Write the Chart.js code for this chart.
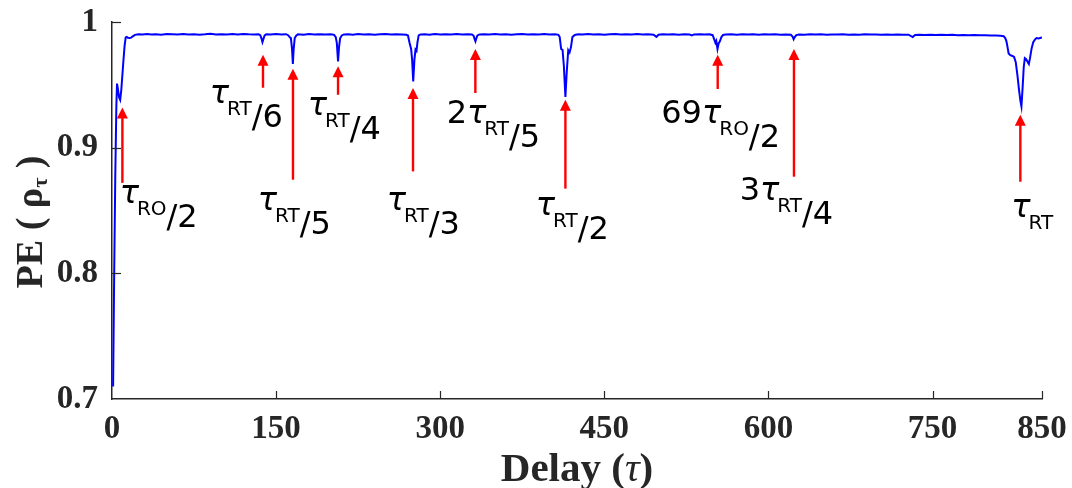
<!DOCTYPE html>
<html><head><meta charset="utf-8">
<script src="https://cdn.jsdelivr.net/npm/chart.js@4/dist/chart.umd.min.js"></script>
<style>html,body{margin:0;padding:0;background:#fff}#wrap{width:1072px;height:488px}</style>
</head><body><div id="wrap"><canvas id="c" width="1072" height="488"></canvas></div>
<script>
const delay = [1,2,3,4,4.6,5.5,6.5,7.5,8.5,9.5,10.5,11.5,12.5,13.5,14.5,16,17.5,19,21,24,28,32,36,40,45,50,55,60,65,70,75,80,85,90,95,100,105,110,115,120,125,130,134,135.5,136.5,137.5,138.5,139.5,141,145,150,155,159,161,162.5,163.5,164.5,165.3,166,167,168.5,170,175,180,185,190,195,200,203,204.5,205.5,206.6,207.5,208.5,210,212,216,220,225,230,235,240,245,250,255,260,265,269,270.5,272,273.4,274.3,275.3,276.4,277.4,278.3,279.2,280.3,282,286,290,295,300,305,310,315,320,325,329,330.5,331.5,332.2,333,334,336,340,345,350,355,360,365,370,375,380,385,390,395,400,405,408,409.2,410.5,411.8,413,414.4,415.6,417,418.2,419.5,420.8,423,426,430,435,440,445,450,455,460,465,470,475,480,485,490,495,497.6,499.5,503,508,513,518,523,528,530,532,537,542,546,549,550.5,551.5,552.3,553.4,554.5,555.5,557,558.5,561,566,571,576,581,586,591,596,601,606,611,616,620.5,622,623,624,625.5,628,633,638,643,648,653,658,663,668,673,678,683,688,693,698,703,708,713,718,723,728,731.8,734,738,743,748,753,758,763,768,773,778,783,788,793,798,803,808,812,815,816.5,817.5,818.5,819.5,821,823,824.5,826,827.5,829,830.3,831.2,832.3,833.3,834.3,835.5,837,838,839,840.5,842,843.5,845,847,849,850];
const pe = [0.710,0.800,0.878,0.934,0.951,0.946,0.940,0.938,0.946,0.958,0.970,0.981,0.9878,0.9882,0.9874,0.9872,0.9876,0.9886,0.9898,0.9903,0.9900,0.9905,0.9901,0.9903,0.9899,0.9904,0.9902,0.9900,0.9905,0.9901,0.9903,0.9899,0.9902,0.9906,0.9901,0.9903,0.9900,0.9904,0.9901,0.9905,0.9902,0.9900,0.9902,0.9895,0.9872,0.9840,0.9868,0.9893,0.9902,0.9900,0.9904,0.9901,0.9903,0.9895,0.9878,0.9872,0.9790,0.9666,0.9780,0.9872,0.9893,0.9902,0.9899,0.9904,0.9901,0.9903,0.9900,0.9902,0.9898,0.9880,0.9832,0.9687,0.9800,0.9870,0.9893,0.9901,0.9903,0.9899,0.9904,0.9901,0.9902,0.9899,0.9903,0.9905,0.9900,0.9902,0.9901,0.9898,0.9893,0.9833,0.9785,0.9700,0.9527,0.9700,0.9780,0.9770,0.9840,0.9893,0.9901,0.9903,0.9899,0.9904,0.9901,0.9903,0.9900,0.9904,0.9901,0.9903,0.9900,0.9890,0.9862,0.9846,0.9870,0.9893,0.9901,0.9903,0.9900,0.9904,0.9901,0.9903,0.9899,0.9902,0.9904,0.9900,0.9903,0.9901,0.9904,0.9900,0.9902,0.9898,0.9880,0.9785,0.9778,0.9650,0.9403,0.9600,0.9775,0.9758,0.9800,0.9880,0.9897,0.9902,0.9900,0.9904,0.9901,0.9903,0.9899,0.9902,0.9904,0.9900,0.9903,0.9901,0.9904,0.9900,0.9902,0.9899,0.9882,0.9898,0.9902,0.9900,0.9903,0.9899,0.9902,0.9900,0.9894,0.9901,0.9903,0.9900,0.9902,0.9895,0.9860,0.9835,0.9850,0.9785,0.9830,0.9845,0.9880,0.9897,0.9901,0.9903,0.9899,0.9902,0.9900,0.9903,0.9899,0.9902,0.9900,0.9903,0.9899,0.9901,0.9898,0.9885,0.9862,0.9880,0.9896,0.9901,0.9899,0.9902,0.9900,0.9903,0.9899,0.9901,0.9900,0.9902,0.9898,0.9901,0.9899,0.9902,0.9900,0.9901,0.9898,0.9900,0.9899,0.9901,0.9898,0.9899,0.9880,0.9897,0.9899,0.9897,0.9899,0.9896,0.9898,0.9896,0.9898,0.9895,0.9897,0.9894,0.9896,0.9894,0.9895,0.9892,0.9893,0.9890,0.9887,0.9870,0.9846,0.9800,0.9750,0.9736,0.9730,0.9722,0.9680,0.9580,0.9460,0.9370,0.9328,0.9480,0.9640,0.9713,0.9705,0.9680,0.9666,0.9710,0.9790,0.9840,0.9860,0.9872,0.9869,0.9875,0.9877];
const xTicks = [0,150,300,450,600,750,850];
const yTicks = [0.7,0.8,0.9,1];
const yTickLabels = ['0.7','0.8','0.9','1'];

// arrow annotations: x = delay, tip/tail = PE; label anchor (lx delay, ly PE = baseline of τ)
const annotations = [
  {x:9.5,   tip:0.932,  tail:0.872,  lx:7.0,   ly:0.8562, pre:'',   sub:'RO', post:'/2'},
  {x:138.0, tip:0.974,  tail:0.9477, lx:89.3,  ly:0.9358, pre:'',   sub:'RT', post:'/6'},
  {x:165.4, tip:0.9628, tail:0.8745, lx:133.2, ly:0.8506, pre:'',   sub:'RT', post:'/5'},
  {x:206.6, tip:0.9647, tail:0.9421, lx:178.9, ly:0.9262, pre:'',   sub:'RT', post:'/4'},
  {x:275.1, tip:0.9475, tail:0.8811, lx:251.1, ly:0.8507, pre:'',   sub:'RT', post:'/3'},
  {x:332.1, tip:0.9785, tail:0.9435, lx:305.9, ly:0.9199, pre:'2',  sub:'RT', post:'/5'},
  {x:414.4, tip:0.9382, tail:0.8674, lx:387.3, ly:0.8467, pre:'',   sub:'RT', post:'/2'},
  {x:553.6, tip:0.974,  tail:0.9467, lx:502.0, ly:0.9199, pre:'69', sub:'RO', post:'/2'},
  {x:623.3, tip:0.9785, tail:0.8769, lx:573.7, ly:0.8582, pre:'3',  sub:'RT', post:'/4'},
  {x:830.2, tip:0.9262, tail:0.8729, lx:821.9, ly:0.8451, pre:'',   sub:'RT', post:''}
];

const AX = '#262626';
const tickFont = {family:'"Liberation Serif", "Times New Roman", serif', weight:'bold', size:33};

const extras = {
  id:'extras',
  afterDraw(chart){
    const ctx = chart.ctx, xs = chart.scales.x, ys = chart.scales.y, ca = chart.chartArea;
    ctx.save();
    // inner tick marks
    ctx.strokeStyle = AX; ctx.lineWidth = 1.2;
    xTicks.forEach(v=>{ if(v===0) return; const p = Math.round(xs.getPixelForValue(v))+0.5;
      ctx.beginPath(); ctx.moveTo(p, ca.bottom); ctx.lineTo(p, ca.bottom-8); ctx.stroke(); });
    yTicks.forEach(v=>{ if(v===0.7) return; const p = Math.round(ys.getPixelForValue(v))+0.5;
      ctx.beginPath(); ctx.moveTo(ca.left, p); ctx.lineTo(ca.left+9, p); ctx.stroke(); });
    // arrows + labels
    annotations.forEach(a=>{
      const px = xs.getPixelForValue(a.x), ty = ys.getPixelForValue(a.tip), tl = ys.getPixelForValue(a.tail);
      ctx.strokeStyle = '#ff0000'; ctx.lineWidth = 2.4;
      ctx.beginPath(); ctx.moveTo(px, tl); ctx.lineTo(px, ty+9); ctx.stroke();
      ctx.fillStyle = '#ff0000';
      ctx.beginPath(); ctx.moveTo(px, ty); ctx.lineTo(px-5.5, ty+11); ctx.lineTo(px+5.5, ty+11); ctx.closePath(); ctx.fill();
      let lx = xs.getPixelForValue(a.lx); const by = ys.getPixelForValue(a.ly);
      ctx.fillStyle = '#000'; ctx.textAlign = 'left'; ctx.textBaseline = 'alphabetic';
      const big = '32px "DejaVu Sans"', small = '20px "DejaVu Sans"';
      if (a.pre){ ctx.font = big; ctx.fillText(a.pre, lx, by); lx += ctx.measureText(a.pre).width; }
      ctx.font = 'oblique ' + big; ctx.fillText('τ', lx, by); lx += ctx.measureText('τ').width - 2;
      ctx.font = small; ctx.fillText(a.sub, lx, by+12); lx += ctx.measureText(a.sub).width;
      if (a.post){ ctx.font = big; ctx.fillText(a.post, lx, by+24); }
    });
    // x title
    const f = '"Liberation Serif", "Times New Roman", serif';
    const xparts = [{t:'Delay (', f:'bold 41px '+f}, {t:'τ', f:'italic 41px '+f}, {t:')', f:'bold 41px '+f}];
    let w = 0; xparts.forEach(p=>{ctx.font=p.f; p.w=ctx.measureText(p.t).width; w+=p.w;});
    let x0 = (ca.left+ca.right)/2 - w/2;
    ctx.fillStyle = AX;
    xparts.forEach(p=>{ctx.font=p.f; ctx.fillText(p.t, x0, 481); x0+=p.w;});
    // y title (rotated)
    ctx.translate(42, 222); ctx.rotate(-Math.PI/2);
    const yparts = [{t:'PE ( ', f:'bold 38px '+f, dy:0}, {t:'ρ', f:'bold 38px '+f, dy:0}, {t:'τ', f:'bold 22px '+f, dy:5}, {t:' )', f:'bold 38px '+f, dy:0}];
    w = 0; yparts.forEach(p=>{ctx.font=p.f; p.w=ctx.measureText(p.t).width; w+=p.w;});
    x0 = -w/2;
    yparts.forEach(p=>{ctx.font=p.f; ctx.fillText(p.t, x0, p.dy); x0+=p.w;});
    ctx.restore();
  }
};

function noPad(s){ s.paddingTop = 0; s.paddingBottom = 0; s.paddingLeft = 0; s.paddingRight = 0; }

new Chart(document.getElementById('c'), {
  type:'line',
  data:{datasets:[{data: delay.map((d,i)=>({x:d, y:pe[i]})), borderColor:'#0000ff', borderWidth:2, pointRadius:0, tension:0, fill:false}]},
  options:{
    responsive:false, animation:false, devicePixelRatio:1, events:[],
    layout:{padding:{top:22, right:30, left:0, bottom:0}},
    plugins:{legend:{display:false}, tooltip:{enabled:false}},
    scales:{
      x:{type:'linear', min:0, max:850,
        afterBuildTicks(s){ s.ticks = xTicks.map(v=>({value:v})); },
        afterFit(s){ s.height = 89; noPad(s); },
        grid:{display:false, drawTicks:false},
        border:{display:true, color:AX, width:1.5},
        ticks:{font:tickFont, color:AX, padding:11, maxRotation:0, autoSkip:false, callback:(v)=>String(v)}
      },
      y:{type:'linear', min:0.7, max:1,
        afterBuildTicks(s){ s.ticks = yTicks.map(v=>({value:v})); },
        afterFit(s){ s.width = 112; noPad(s); },
        grid:{display:false, drawTicks:false},
        border:{display:true, color:AX, width:1.5},
        ticks:{font:tickFont, color:AX, padding:14, autoSkip:false, callback:(v,i)=>yTickLabels[i]}
      }
    }
  },
  plugins:[extras]
});
</script></body></html>
